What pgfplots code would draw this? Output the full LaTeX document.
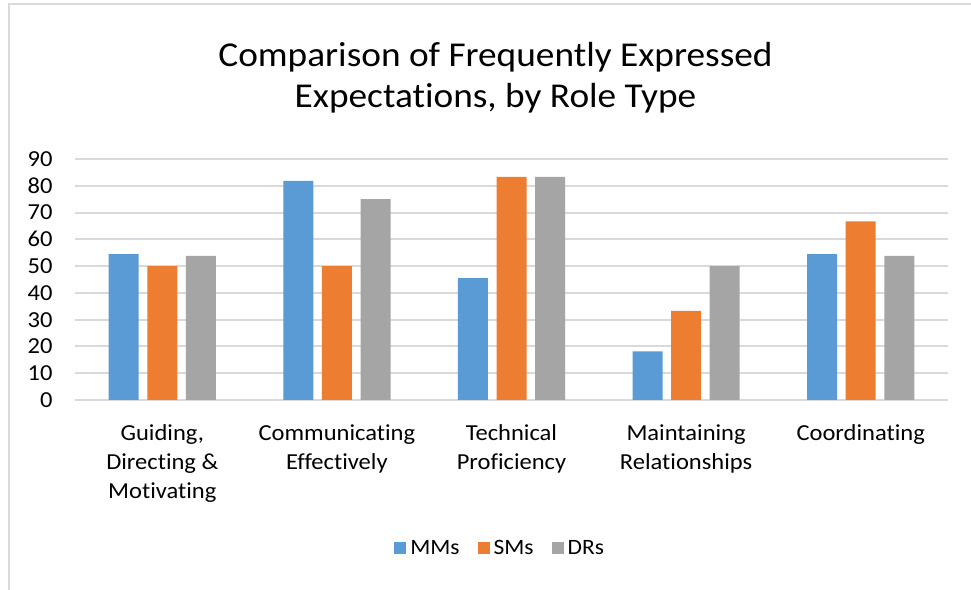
\documentclass[border=0pt]{standalone}
\usepackage{pgfplots}
\pgfplotsset{compat=1.18}
\usepackage{fontspec}
\setmainfont{Carlito}[FakeStretch=1.07, Ligatures=NoCommon]
\definecolor{cblue}{HTML}{5B9BD5}
\definecolor{corange}{HTML}{ED7D31}
\definecolor{cgray}{HTML}{A5A5A5}
\definecolor{cgrid}{HTML}{D9D9D9}
\begin{document}
\begin{tikzpicture}
\useasboundingbox (0,0) rectangle (971bp,590bp);
\fill[white] (0,0) rectangle (971bp,590bp);
\draw[cgrid, line width=2.5bp] (9bp,-5bp) -- (9bp,586bp) -- (980bp,586bp);
\node[anchor=base, font=\fontsize{35}{42}\selectfont, text=black] at (495.5bp,523.5bp) {Comparison of Frequently Expressed};
\node[anchor=base, font=\fontsize{35}{42}\selectfont, text=black] at (495.5bp,482bp) {Expectations, by Role Type};
\begin{axis}[
  at={(75bp,190bp)}, anchor=south west, scale only axis,
  width=873bp, height=241bp,
  ymin=0, ymax=90, xmin=-0.5, xmax=4.5,
  ybar=8.6bp, bar width=30bp,
  ytick={0,10,...,90},
  xtick={0,1,2,3,4},
  xticklabels={{Guiding,\\Directing \&\\Motivating},{Communicating\\Effectively},{Technical\\Proficiency},{Maintaining\\Relationships},{Coordinating}},
  /pgf/number format/assume math mode=true,
  yticklabel style={font=\fontsize{23}{27}\selectfont, text=black, xshift=-19bp},
  xticklabel style={font=\fontsize{23}{29}\selectfont, text=black, align=center, yshift=-21bp},
  major tick length=0pt,
  axis y line*=left,
  y axis line style={draw=none},
  axis x line*=bottom,
  x axis line style={cgrid, line width=2bp, -},
  ymajorgrids, grid style={cgrid, line width=2bp},
  legend style={at={(0.487,-0.614)}, anchor=center, draw=none, legend columns=-1,
    font=\fontsize{22}{26}\selectfont, text=black,
    /tikz/every even column/.append style={column sep=16bp},
    /tikz/every odd column/.append style={column sep=2bp}},
  legend image code/.code={\fill[#1] (0bp,-6bp) rectangle (12bp,6bp);},
  every axis plot/.append style={draw=none},
]
\addplot[fill=cblue] coordinates {(0,54.5) (1,81.8) (2,45.5) (3,18.2) (4,54.5)};
\addplot[fill=corange] coordinates {(0,50) (1,50) (2,83.3) (3,33.3) (4,66.7)};
\addplot[fill=cgray] coordinates {(0,53.8) (1,75) (2,83.3) (3,50) (4,53.8)};
\legend{MMs,SMs,DRs}
\end{axis}
\end{tikzpicture}
\end{document}
